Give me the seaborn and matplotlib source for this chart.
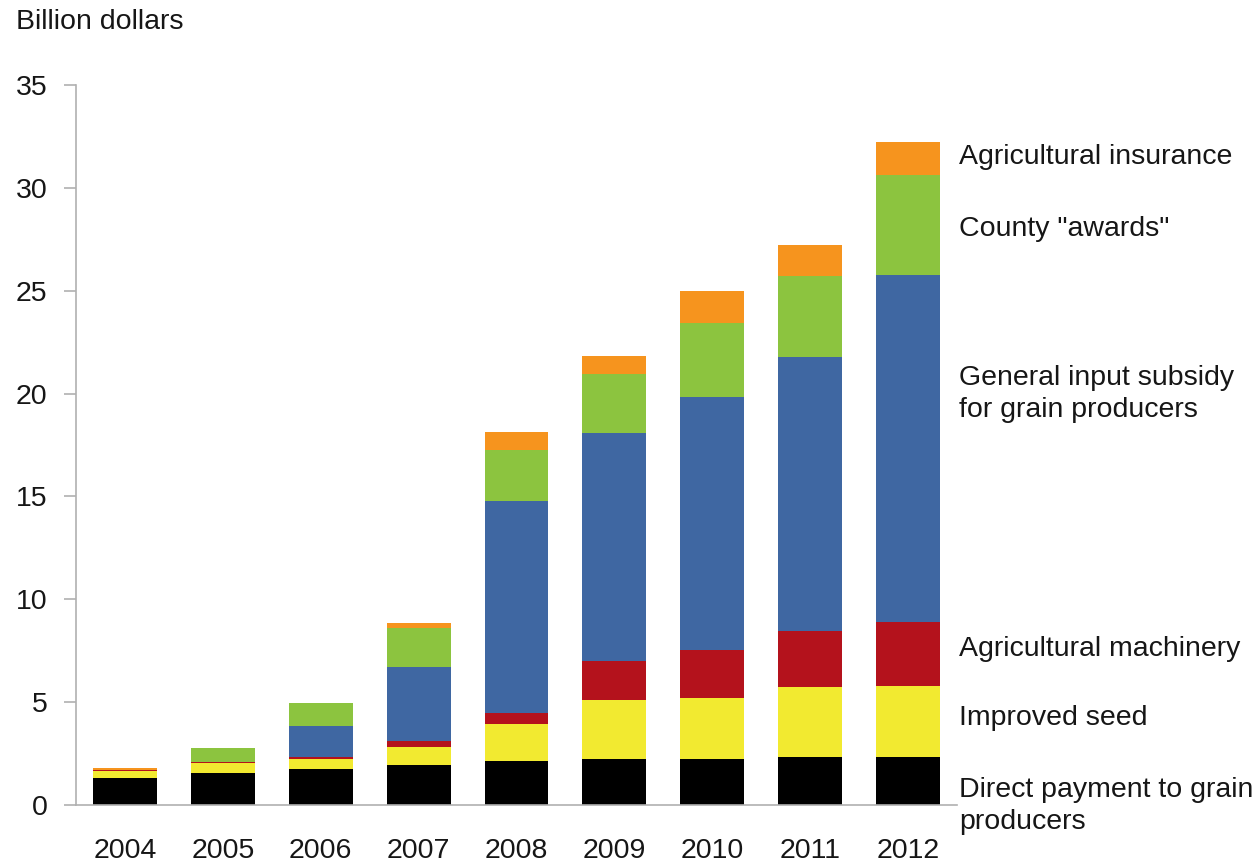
import matplotlib
matplotlib.use("Agg")
import matplotlib.pyplot as plt
import matplotlib.transforms as mtransforms
import numpy as np
import pandas as pd
import seaborn as sns

# Agricultural subsidy components, billion dollars
years = ["2004", "2005", "2006", "2007", "2008", "2009", "2010", "2011", "2012"]
direct_payment = [1.33, 1.55, 1.75, 1.94, 2.15, 2.22, 2.22, 2.31, 2.35]
improved_seed = [0.32, 0.50, 0.49, 0.87, 1.79, 2.88, 3.00, 3.41, 3.44]
machinery = [0.05, 0.04, 0.08, 0.30, 0.55, 1.92, 2.31, 2.72, 3.12]
general_input = [0.00, 0.00, 1.52, 3.61, 10.30, 11.05, 12.32, 13.34, 16.83]
county_awards = [0.00, 0.70, 1.13, 1.87, 2.47, 2.87, 3.57, 3.95, 4.89]
insurance = [0.08, 0.00, 0.00, 0.28, 0.89, 0.89, 1.57, 1.50, 1.58]

series_names = [
    "Direct payment to grain\nproducers",
    "Improved seed",
    "Agricultural machinery",
    "General input subsidy\nfor grain producers",
    'County "awards"',
    "Agricultural insurance",
]
series_values = [direct_payment, improved_seed, machinery,
                 general_input, county_awards, insurance]
series_colors = ["#000000", "#f2ea30", "#b4121c", "#3f67a2", "#8cc43f", "#f6941e"]
# vertical placement (data units) of the labels at the right of the bars
label_y = [-0.05, 4.23, 7.58, 19.98, 28.0, 31.5]

sns.set_theme(style="white")
plt.rcParams["font.family"] = ["Liberation Sans", "DejaVu Sans"]

FS = 20.5
TXT = "#161616"

fig = plt.figure(figsize=(12.59, 8.63), dpi=100)
ax = fig.add_axes([76 / 1259, 58 / 863, 881 / 1259, 720 / 863])

# stacked bars: draw cumulative totals from the top layer down
cum = np.cumsum(np.array(series_values), axis=0)
for i in range(len(series_names) - 1, -1, -1):
    df = pd.DataFrame({"year": years, "value": cum[i]})
    sns.barplot(data=df, x="year", y="value", color=series_colors[i],
                saturation=1, width=0.653, errorbar=None, linewidth=0,
                ax=ax, order=years)

ax.set_xlim(-0.5, 8.5)
ax.set_ylim(0, 35)
ax.set_yticks(np.arange(0, 36, 5))
ax.set_xlabel("")
ax.set_ylabel("")

for side in ["top", "right"]:
    ax.spines[side].set_visible(False)
for side in ["left", "bottom"]:
    ax.spines[side].set_color("#b0b0b0")
    ax.spines[side].set_linewidth(1.2)

ax.tick_params(axis="y", left=True, length=8.5, width=1.2, color="#b0b0b0",
               pad=12, labelsize=FS, labelcolor=TXT)
ax.tick_params(axis="x", bottom=False, length=0, pad=24, labelsize=FS,
               labelcolor=TXT)

trans = mtransforms.blended_transform_factory(ax.transAxes, ax.transData)
for name, y in zip(series_names, label_y):
    ax.text(1.002, y, name, transform=trans, ha="left", va="center",
            fontsize=FS, color=TXT, linespacing=1.32, clip_on=False)

fig.text(16 / 1259, 1 - 22 / 863, "Billion dollars", ha="left", va="center",
         fontsize=FS, color=TXT)

fig.savefig("out.png", dpi=100)
